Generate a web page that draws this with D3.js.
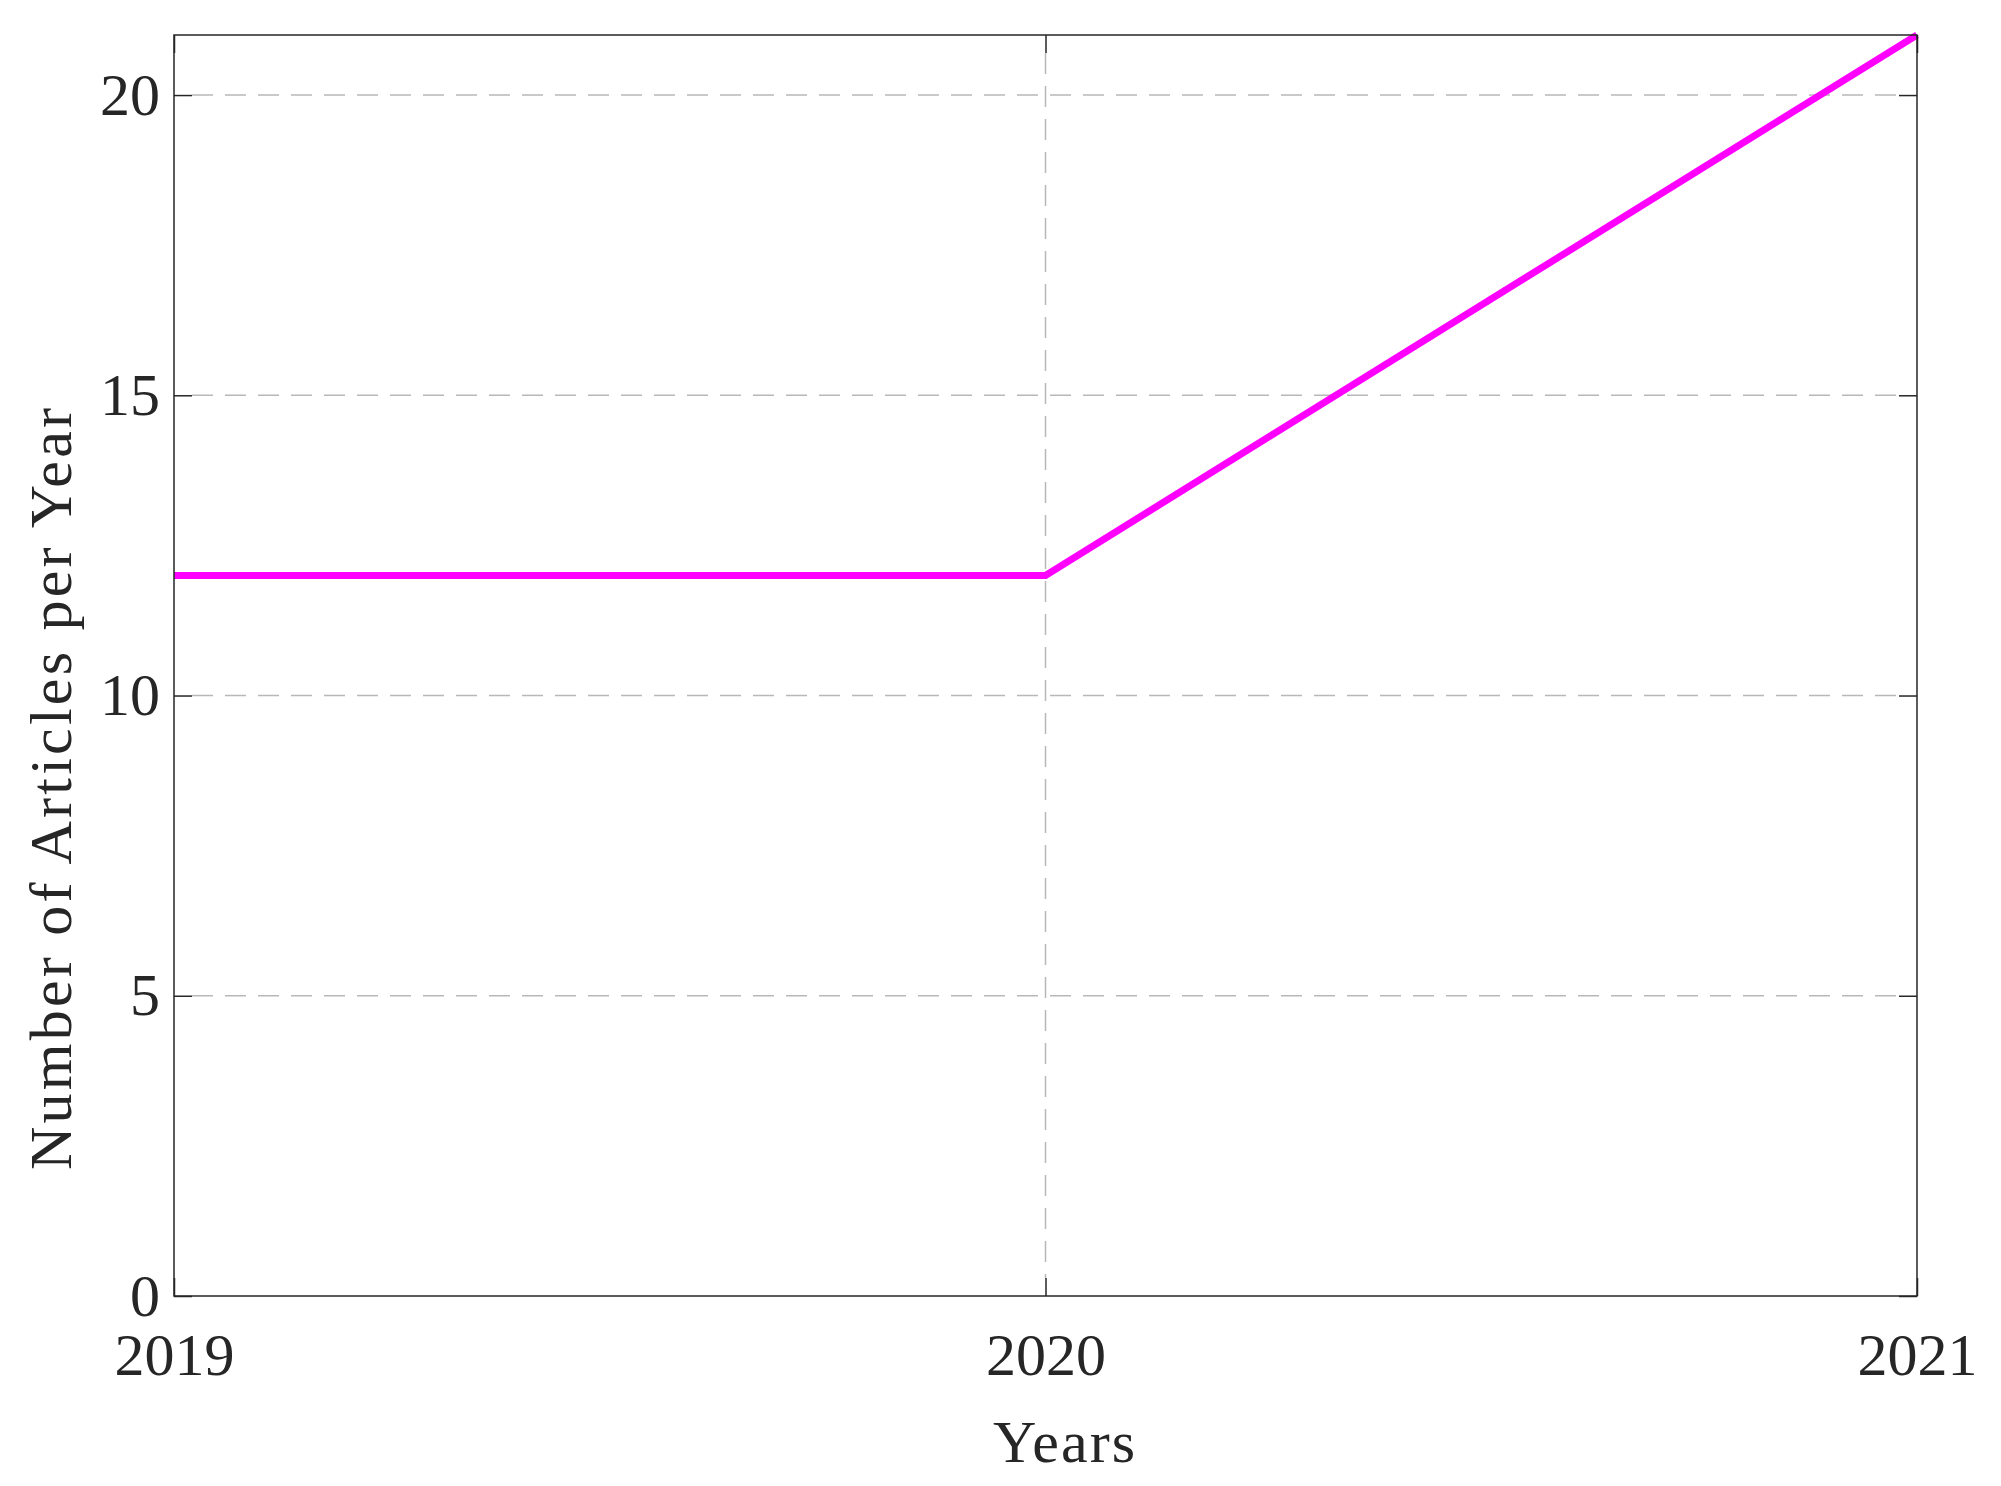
<!DOCTYPE html>
<html lang="en">
<head>
  <meta charset="UTF-8">
  <title>Articles per Year</title>
  <script src="https://cdn.jsdelivr.net/npm/d3@7"></script>
  <style>
  body { margin: 0; padding: 0; background: #fff; }
  svg { display: block; background: #fff; }
  .axis text, .label { fill: #262626; font-family: "Liberation Serif", "DejaVu Serif", serif; }
  .grid line { stroke: #b8b8b8; stroke-width: 1.5px; stroke-dasharray: 21 12; }
  .tick-mark { stroke: #262626; stroke-width: 1.5px; }
  </style>
</head>
<body>
<div id="chart"></div>
<script>
  // data
  var years = [2019, 2020, 2021];
  var articles = [12, 12, 21];
  var yTicks = [0, 5, 10, 15, 20];

  var width = 2001, height = 1486;
  // plot box edges (window.top is reserved, so prefix them)
  var boxL = 174, boxR = 1917, boxT = 35, boxB = 1296;
  var tickLen = 18;

  var svg = d3.select('#chart').append('svg')
    .attr('width', width)
    .attr('height', height);

  var xScale = d3.scaleLinear().domain([2019, 2021]).range([boxL, boxR]);
  var yScale = d3.scaleLinear().domain([0, 21]).range([boxB, boxT]);

  // grid lines (dashed)
  var grid = svg.append('g').attr('class', 'grid');
  grid.selectAll('.hgrid')
    .data(yTicks.filter(function(d){ return d > 0; }))
    .enter().append('line')
    .attr('x1', boxL + tickLen).attr('x2', boxR - tickLen)
    .attr('y1', function(d){ return yScale(d); })
    .attr('y2', function(d){ return yScale(d); });
  grid.selectAll('.vgrid')
    .data(years.slice(1, -1))
    .enter().append('line')
    .attr('y1', boxT + tickLen).attr('y2', boxB - tickLen)
    .attr('x1', function(d){ return xScale(d); })
    .attr('x2', function(d){ return xScale(d); });

  // the series
  var line = d3.line()
    .x(function(d, i){ return xScale(years[i]); })
    .y(function(d){ return yScale(d); });
  svg.append('path')
    .datum(articles)
    .attr('d', line)
    .attr('fill', 'none')
    .attr('stroke', '#ff00ff')
    .attr('stroke-width', 7)
    .attr('stroke-linejoin', 'miter');

  // axes, ticks point inward on every side
  var fontSize = 60;
  var xAxisB = d3.axisBottom(xScale).tickValues(years).tickFormat(d3.format('d'))
    .tickSizeInner(-tickLen).tickSizeOuter(0).tickPadding(36);
  var xAxisT = d3.axisTop(xScale).tickValues(years).tickFormat('')
    .tickSizeInner(-tickLen).tickSizeOuter(0);
  var yAxisL = d3.axisLeft(yScale).tickValues(yTicks)
    .tickSizeInner(-tickLen).tickSizeOuter(0).tickPadding(14);
  var yAxisR = d3.axisRight(yScale).tickValues(yTicks).tickFormat('')
    .tickSizeInner(-tickLen).tickSizeOuter(0);

  function style(g) {
    g.select('.domain').remove();
    g.selectAll('.tick line').attr('class', 'tick-mark');
    g.selectAll('text').style('font-size', fontSize + 'px');
  }

  svg.append('g').attr('class', 'axis')
    .attr('transform', 'translate(0,' + boxB + ')').call(xAxisB).call(style);
  svg.append('g').attr('class', 'axis')
    .attr('transform', 'translate(0,' + boxT + ')').call(xAxisT).call(style);
  svg.append('g').attr('class', 'axis')
    .attr('transform', 'translate(' + boxL + ',0)').call(yAxisL).call(style);
  svg.append('g').attr('class', 'axis')
    .attr('transform', 'translate(' + boxR + ',0)').call(yAxisR).call(style);

  // box
  svg.append('rect')
    .attr('x', boxL).attr('y', boxT)
    .attr('width', boxR - boxL).attr('height', boxB - boxT)
    .attr('fill', 'none')
    .attr('stroke', '#262626')
    .attr('stroke-width', 1.5);

  // axis labels (stretched a bit, the original face is wider)
  svg.append('text')
    .attr('class', 'label')
    .attr('x', 1064).attr('y', 1462)
    .attr('text-anchor', 'middle')
    .attr('textLength', 142)
    .style('font-size', fontSize + 'px')
    .text('Years');

  svg.append('text')
    .attr('class', 'label')
    .attr('transform', 'translate(71,789) rotate(-90)')
    .attr('text-anchor', 'middle')
    .attr('textLength', 762)
    .style('font-size', fontSize + 'px')
    .text('Number of Articles per Year');
</script>
</body>
</html>
